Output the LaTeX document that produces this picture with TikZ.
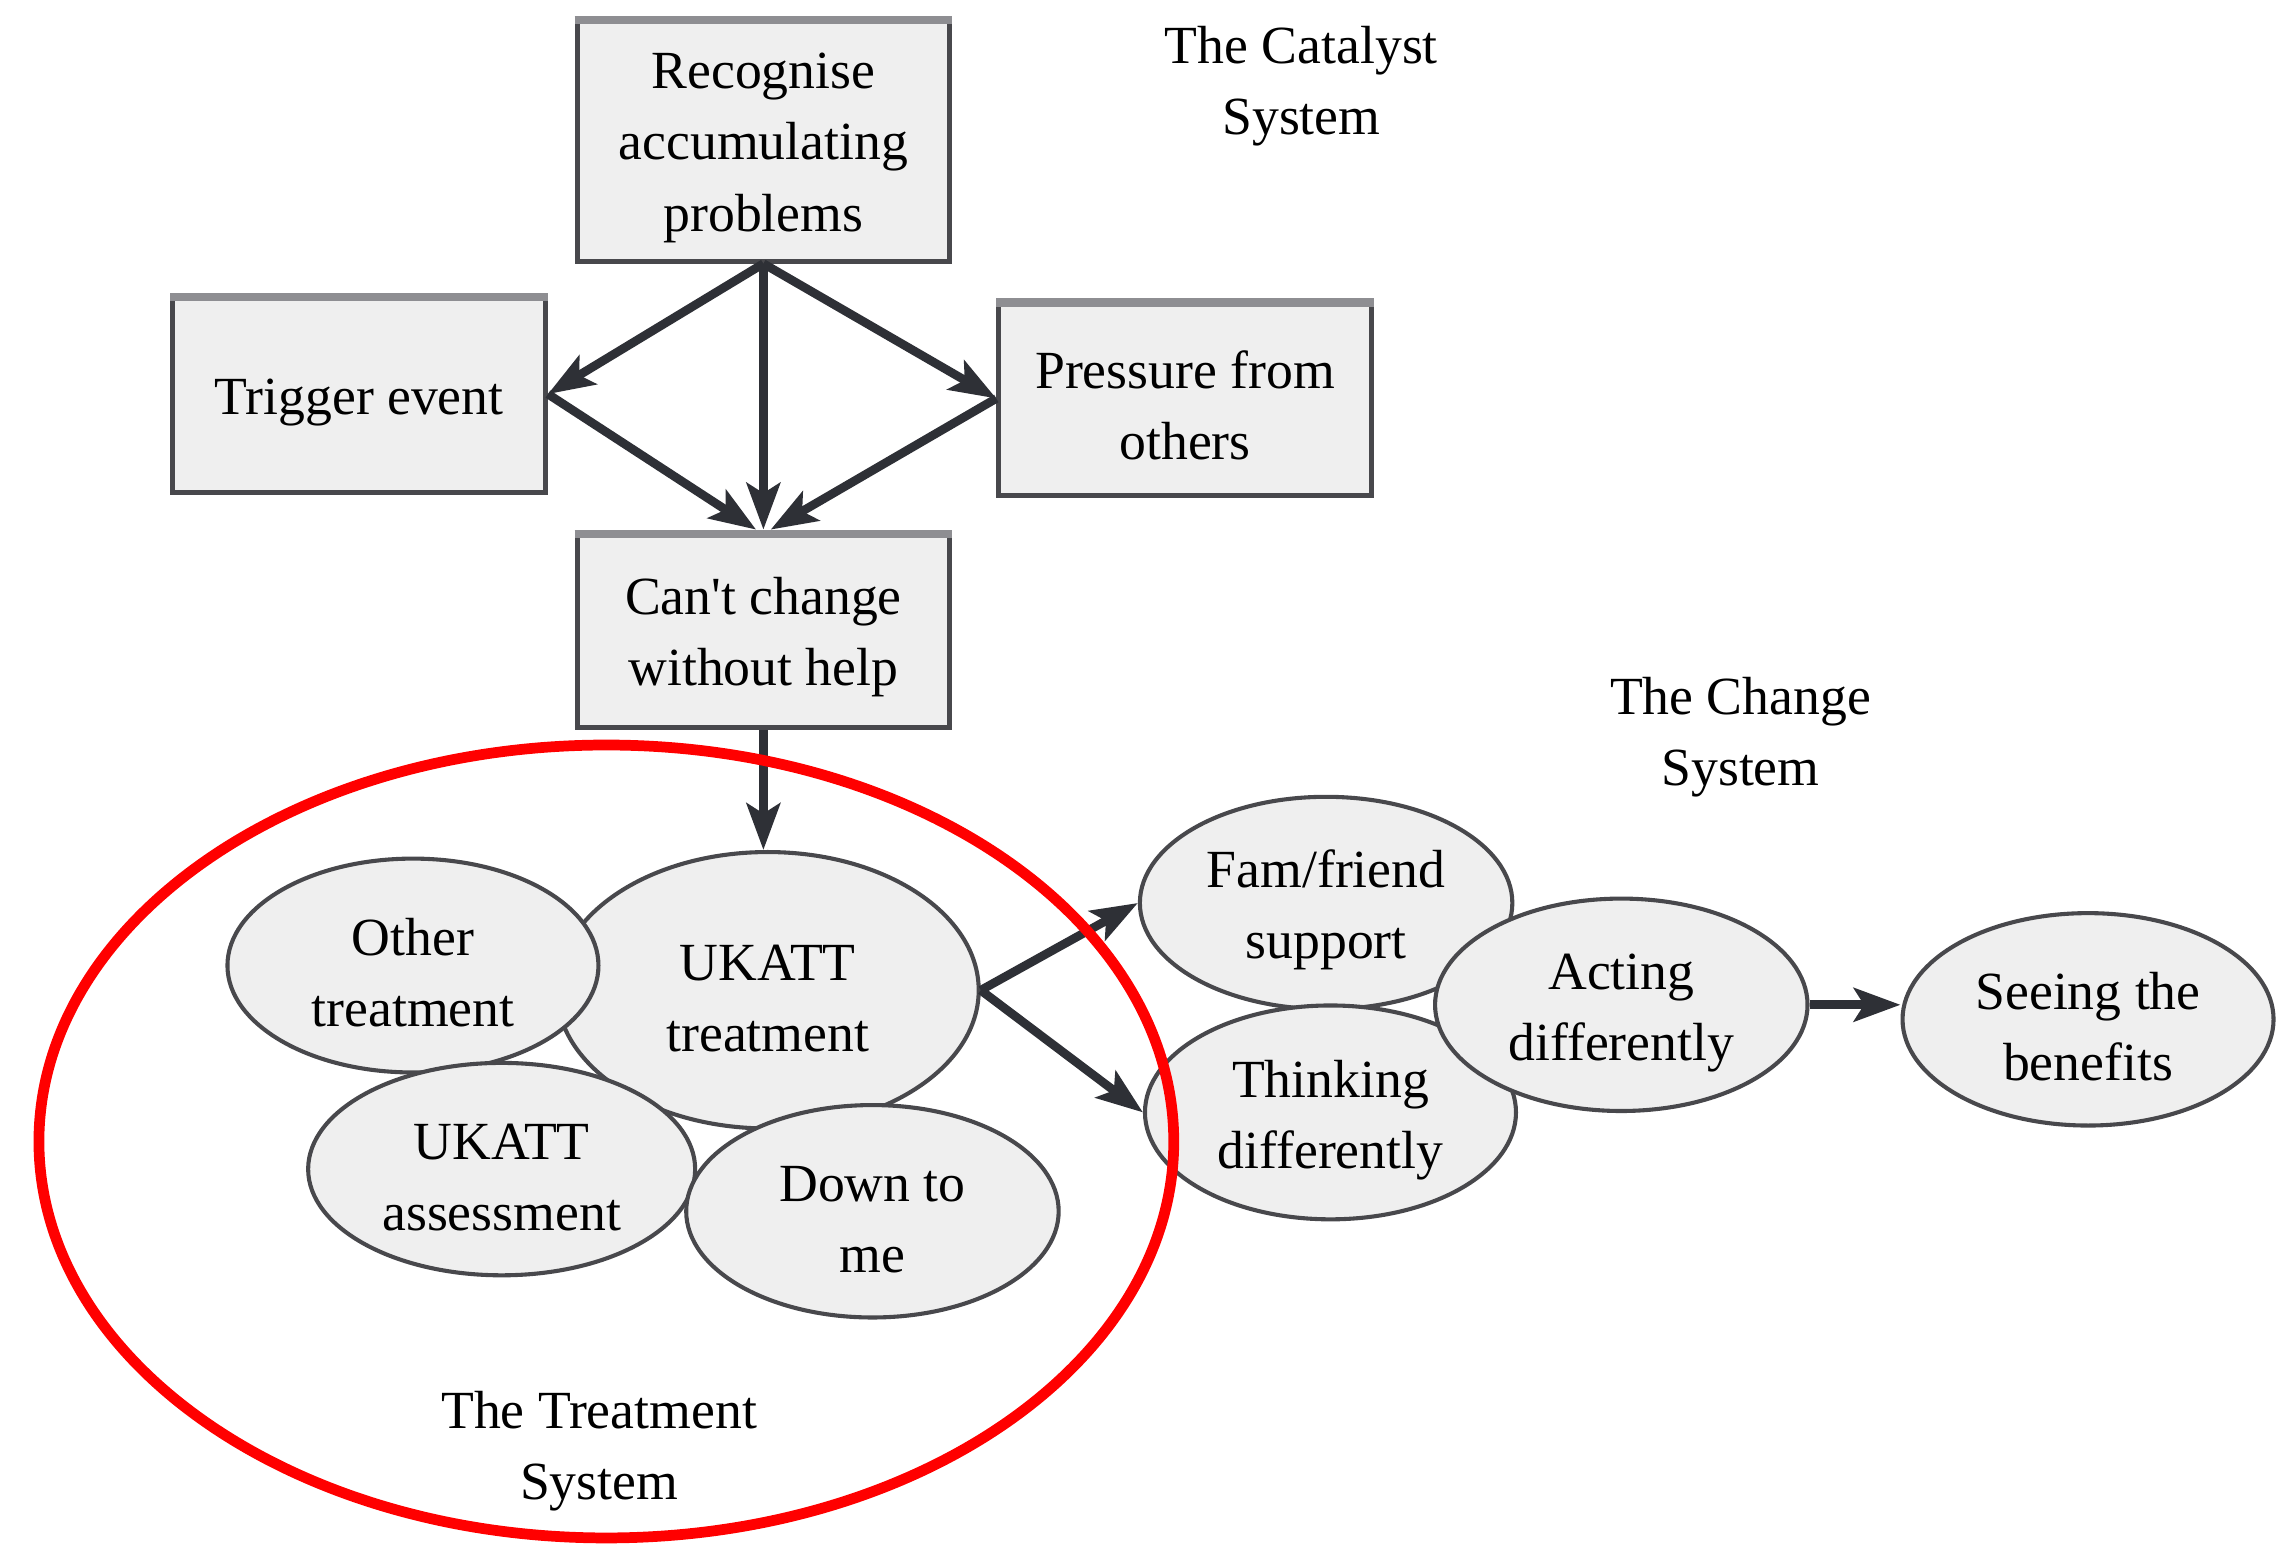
\documentclass[tikz,border=0pt]{standalone}
\usepackage{fontspec}
\setmainfont{Liberation Serif}
\usetikzlibrary{shapes.geometric,arrows.meta}
\definecolor{boxfill}{HTML}{EFEFEF}
\definecolor{edgegray}{HTML}{48484C}
\definecolor{topgray}{HTML}{8E8E92}
\definecolor{arrowdark}{HTML}{2E3036}
\definecolor{ringred}{HTML}{FF0000}
% taller first line, so the text sits a little below the shape centre
\newcommand{\strutup}{\rule{0pt}{10.2pt}}
\begin{document}
\begin{tikzpicture}[x=0.01cm,y=-0.01cm,
  every node/.style={font=\fontsize{10.5}{13.9}\selectfont, align=center},
  stepbox/.style={rectangle, draw=edgegray, fill=boxfill, line width=1pt,
    inner sep=0pt, minimum width=2.56cm},
  topedge/.style={draw=topgray, line width=1.6pt},
  blob/.style={ellipse, draw=edgegray, fill=boxfill, line width=0.8pt,
    inner sep=0pt, minimum width=2.56cm, minimum height=1.46cm},
  arr/.style={draw=arrowdark, line width=1.7pt,
    -{Stealth[length=3.2mm,width=2.3mm,inset=0.7mm]}},
  caption/.style={text=black}
]
\useasboundingbox (0,0) rectangle (1568,1062);

% catalyst system: boxes
\node[stepbox, minimum height=1.67cm] (rec) at (525,96) {\strutup Recognise\\accumulating\\problems};
\node[stepbox, minimum height=1.35cm] (trig) at (247,271) {\strutup Trigger event};
\node[stepbox, minimum height=1.34cm] (press) at (815,274) {\strutup Pressure from\\others};
\node[stepbox, minimum height=1.34cm] (cant) at (525,433) {\strutup Can\textquotesingle t change\\without help};
\foreach \b in {rec,trig,press,cant}
  \draw[topedge] ([yshift=-0.8pt]\b.north west) -- ([yshift=-0.8pt]\b.north east);

\draw[arr] (rec.south) -- (trig.east);
\draw[arr] (rec.south) -- (press.west);
\draw[arr] (rec.south) -- (cant.north);
\draw[arr] (trig.east) -- ([xshift=-0.05cm]cant.north);
\draw[arr] (press.west) -- ([xshift=0.05cm]cant.north);

% treatment system
\node[blob, minimum width=2.90cm, minimum height=1.90cm] (ukt) at (528,681) {\strutup UKATT\\treatment};
\node[blob, minimum width=2.55cm, minimum height=1.47cm] (oth) at (284,664) {\strutup Other\\treatment};
\node[blob, minimum width=2.66cm] (uka) at (345,804) {\strutup UKATT\\assessment};
\node[blob] (down) at (600,833) {\strutup Down to\\me};

\draw[arr] (cant.south) -- (cant.south |- ukt.north);

% change system
\node[blob] (fam) at (912,621) {\strutup Fam/friend\\support};
\node[blob, minimum width=2.55cm, minimum height=1.47cm] (think) at (915,765) {\strutup Thinking\\differently};
\node[blob] (act) at (1115,691) {\strutup Acting\\differently};
\node[blob, minimum width=2.55cm] (see) at (1436,701) {\strutup Seeing the\\benefits};

\draw[arr] (ukt.east) -- (fam.west);
\draw[arr] (ukt.east) -- (think.west);
\draw[arr] (act.east) -- (act.east -| see.west);

% system captions
\node[caption] (catcap) at (895,59) {The Catalyst\\System};
\node[caption] (chcap) at (1197,507) {The Change\\System};
\node[caption] (trcap) at (412,998) {The Treatment\\System};

% ring round the treatment system
\node[ellipse, draw=ringred, line width=2.1pt, inner sep=0pt,
  minimum width=7.80cm, minimum height=5.45cm] (ring) at (417,785) {};
\end{tikzpicture}
\end{document}
